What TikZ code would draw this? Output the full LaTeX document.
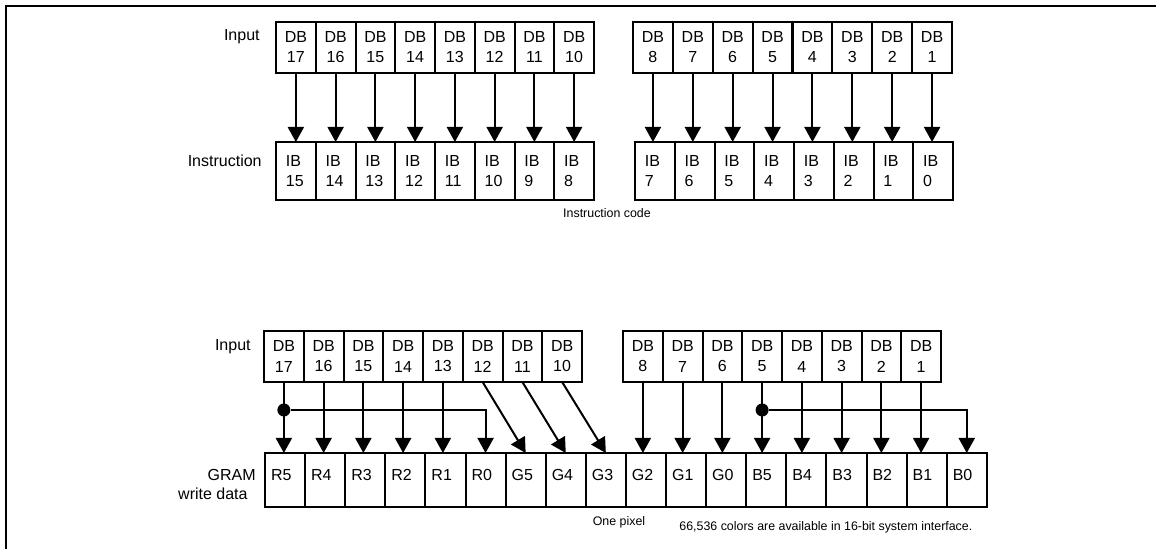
\documentclass[tikz,border=0pt]{standalone}
\usepackage{fontspec}
\setmainfont{Liberation Sans}
\usetikzlibrary{arrows.meta, positioning}

\begin{document}
\begin{tikzpicture}[x=0.5pt, y=-0.5pt, font=\fontsize{8pt}{10pt}\selectfont,
  cell/.style={draw, line width=1pt, inner sep=0pt, outer sep=0pt, minimum width=19.875pt},
  dbcell/.style={cell, minimum height=25.5pt, align=center},
  ibcell/.style={cell, minimum height=29pt, text width=10pt, align=left},
  gcell/.style={cell, minimum width=20.05pt, minimum height=27pt, text width=14pt, text depth=5pt, align=left},
  lbl/.style={inner sep=0pt},
  note/.style={inner sep=0pt, font=\fontsize{6.2pt}{7.5pt}\selectfont},
  arr/.style={line width=1pt, -{Triangle[width=8pt, length=7.5pt]}},
  dot/.style={circle, fill, inner sep=0pt, minimum size=6.5pt}]
\useasboundingbox (0,0) rectangle (1156,549);
\draw[line width=1pt] (1156,6) -- (5.5,6) -- (5.5,549);

% instruction code
\foreach \n [count=\i] in {17,16,...,10}
  \node[dbcell] (tdb\n) at ({276+(\i-0.5)*39.75}, 47.5) {DB\\\n};
\foreach \n [count=\i] in {8,7,...,1}
  \node[dbcell] (tdb\n) at ({633+(\i-0.5)*39.875}, 47.5) {DB\\\n};
\foreach \n [count=\i] in {15,14,...,8}
  \node[ibcell] (ib\n) at ({276+(\i-0.5)*39.75}, 171) {IB\\\n};
\foreach \n [count=\i] in {7,6,...,0}
  \node[ibcell] (ib\n) at ({635+(\i-0.5)*39.75}, 171) {IB\\\n};
\foreach \a/\b in {17/15,16/14,15/13,14/12,13/11,12/10,11/9,10/8,8/7,7/6,6/5,5/4,4/3,3/2,2/1,1/0}
  \draw[arr] (tdb\a) -- (tdb\a |- ib\b.north);
\node[lbl, left=8pt of tdb17, yshift=5.5pt] (inlbl) {Input};
\node[lbl, left=7pt of ib15, yshift=5pt] (instlbl) {Instruction};
\node[note] (codelbl) at (607,213) {Instruction code};

% GRAM write data
\foreach \n [count=\i] in {17,16,...,10}
  \node[dbcell] (bdb\n) at ({264+(\i-0.5)*39.75}, 356.5) {DB\\\n};
\foreach \n [count=\i] in {8,7,...,1}
  \node[dbcell] (bdb\n) at ({623+(\i-0.5)*39.75}, 356.5) {DB\\\n};
\foreach \c [count=\i] in {R5,R4,R3,R2,R1,R0,G5,G4,G3,G2,G1,G0,B5,B4,B3,B2,B1,B0}
  \node[gcell] (\c) at ({265+(\i-0.5)*40.1}, 480) {\c};
\coordinate (forky) at (0,410);
\node[dot] (fork1) at (bdb17 |- forky) {};
\node[dot] (fork2) at (bdb5 |- forky) {};
\foreach \a/\b in {17/R5,16/R4,15/R3,14/R2,13/R1,8/G2,7/G1,6/G0,5/B5,4/B4,3/B3,2/B2,1/B1}
  \draw[arr] (bdb\a) -- (bdb\a |- \b.north);
\foreach \a/\b in {12/G5,11/G4,10/G3}
  \draw[arr] (bdb\a.south) -- (\b.north);
\draw[arr] (fork1) -| (R0.north);
\draw[arr] (fork2) -| (B0.north);
\node[lbl, left=6.5pt of bdb17, yshift=5pt] (inlbl2) {Input};
\node[lbl, left=4.5pt of R5, yshift=2.75pt] (gramlbl) {GRAM};
\node[lbl, left=8.5pt of R5, yshift=-7pt] (wdlbl) {write data};
\node[note] (pixlbl) at (619,522) {One pixel};
\node[note, anchor=west] (colorlbl) at (679,527) {66,536 colors are available in 16-bit system interface.};
\end{tikzpicture}
\end{document}
